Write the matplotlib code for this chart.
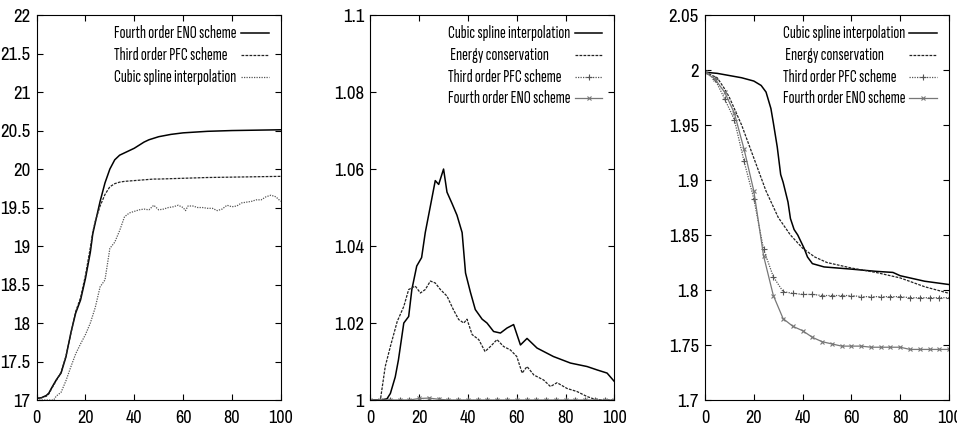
import matplotlib
matplotlib.use("Agg")
import matplotlib.pyplot as plt
from matplotlib import font_manager
from matplotlib.patheffects import AbstractPathEffect
from matplotlib.transforms import Affine2D
from matplotlib.ticker import FormatStrFormatter, MultipleLocator

plt.rcParams["font.family"] = ["Liberation Sans", "DejaVu Sans"]

# ---- left panel: 17 .. 22 ----
x1 = [0, 2, 4, 5, 6, 8, 10, 12, 14, 16, 18, 20, 22, 23, 24, 26, 28, 30, 32, 34,
      36, 38, 40, 42, 44, 46, 48, 50, 55, 60, 65, 70, 80, 90, 100]
eno4_1 = [17.02, 17.03, 17.06, 17.09, 17.15, 17.26, 17.35, 17.56, 17.87, 18.13,
          18.3, 18.58, 18.92, 19.16, 19.3, 19.58, 19.82, 20.0, 20.12, 20.18,
          20.21, 20.24, 20.27, 20.31, 20.35, 20.38, 20.4, 20.42, 20.45, 20.47,
          20.48, 20.49, 20.5, 20.505, 20.51]
pfc3_1 = [17.02, 17.03, 17.05, 17.08, 17.14, 17.25, 17.36, 17.57, 17.86, 18.15,
          18.33, 18.62, 18.98, 19.18, 19.32, 19.52, 19.67, 19.77, 19.81, 19.83,
          19.84, 19.845, 19.85, 19.855, 19.86, 19.865, 19.87, 19.87, 19.875, 19.88,
          19.885, 19.89, 19.895, 19.9, 19.905]
x1c = [0, 2, 4, 6, 7, 8, 10, 12, 14, 16, 18, 20, 22, 24, 26, 28, 30, 32, 34, 36,
       38, 40, 42, 44, 46, 48, 50, 52, 54, 56, 58, 60, 61, 62, 64, 66, 68, 70, 72,
       74, 76, 78, 80, 82, 84, 86, 88, 90, 92, 94, 96, 98, 100]
spline_1 = [17.0, 17.0, 17.0, 17.0, 17.0, 17.05, 17.1, 17.25, 17.43, 17.6, 17.73,
            17.85, 18.0, 18.2, 18.47, 18.56, 18.97, 19.05, 19.2, 19.38, 19.43,
            19.45, 19.47, 19.48, 19.47, 19.53, 19.47, 19.48, 19.5, 19.51, 19.53,
            19.5, 19.46, 19.52, 19.52, 19.5, 19.5, 19.49, 19.49, 19.46, 19.48,
            19.53, 19.51, 19.52, 19.56, 19.57, 19.58, 19.6, 19.6, 19.64, 19.66,
            19.64, 19.58]

# ---- middle panel: 1 .. 1.1 ----
x2s = [0, 4, 6.8, 8.2, 10.2, 11.5, 13.7, 15.7, 17, 19, 21, 22.5, 24.6, 26.6, 28,
       30, 31.4, 33.5, 35.5, 37.6, 39, 41, 43, 45.8, 47.8, 50.5, 53.3, 56, 58.7,
       61.5, 64.2, 68.3, 75, 82, 88.8, 93, 97, 100]
spline_2 = [1.0, 1.0, 1.0003, 1.0017, 1.006, 1.0104, 1.02, 1.0217, 1.0287, 1.0348,
            1.037, 1.0435, 1.0504, 1.057, 1.056, 1.06, 1.054, 1.051, 1.048,
            1.0435, 1.033, 1.028, 1.0235, 1.021, 1.02, 1.0178, 1.0174, 1.0187,
            1.0196, 1.0143, 1.016, 1.0135, 1.0113, 1.0096, 1.0087, 1.0078, 1.007,
            1.0048]
x2e = [0, 4.1, 6.1, 8.2, 11, 13.7, 15.7, 18.4, 20.5, 22.5, 24.6, 26.6, 28.7, 31.4,
       34, 36.2, 38.3, 39.6, 41.7, 44.4, 47, 49.2, 51.9, 54.6, 57.4, 60, 62.2,
       64.2, 67, 71, 73.8, 76.5, 80.6, 84.7, 88.8, 91.5, 95, 100]
energy_2 = [1.0, 1.0, 1.0087, 1.0139, 1.0204, 1.0243, 1.0287, 1.0296, 1.0278,
            1.0287, 1.0309, 1.0304, 1.0287, 1.027, 1.0235, 1.0209, 1.02, 1.021,
            1.017, 1.0157, 1.0126, 1.0139, 1.0157, 1.0139, 1.013, 1.0113, 1.007,
            1.0087, 1.0065, 1.0052, 1.0035, 1.0045, 1.003, 1.0022, 1.0009, 1.0003,
            1.0, 1.0]
x_pts = list(range(0, 101, 4))
pfc3_2 = [1.0] * len(x_pts)
eno4_2 = [1.0, 1.0, 1.0, 1.0, 1.0, 1.0004, 1.0005, 1.0002] + [1.0] * (len(x_pts) - 8)

# ---- right panel: 1.7 .. 2.05 ----
x3s = [0, 5, 10, 15, 20, 23, 25, 27, 28, 29.6, 31, 32, 34, 35, 36.5, 38, 40.6, 42,
       44, 48.8, 60, 70, 77, 80, 90, 100]
spline_3 = [1.998, 1.997, 1.995, 1.993, 1.99, 1.986, 1.98, 1.965, 1.952, 1.93,
            1.905, 1.898, 1.88, 1.865, 1.855, 1.85, 1.838, 1.83, 1.824, 1.821,
            1.819, 1.817, 1.816, 1.813, 1.808, 1.805]
x3e = [0, 5, 8, 10, 15, 20, 25, 30, 35, 40, 45, 50, 60, 70, 80, 90, 100]
energy_3 = [1.998, 1.993, 1.983, 1.975, 1.95, 1.92, 1.89, 1.866, 1.85, 1.838,
            1.83, 1.825, 1.82, 1.816, 1.811, 1.803, 1.797]
pfc3_3 = [1.998, 1.992, 1.974, 1.955, 1.917, 1.883, 1.837, 1.812, 1.7985, 1.797,
          1.796, 1.796, 1.795, 1.795, 1.795, 1.795, 1.794, 1.794, 1.794, 1.794,
          1.794, 1.793, 1.793, 1.793, 1.793, 1.793]
eno4_3 = [1.998, 1.992, 1.98, 1.961, 1.928, 1.89, 1.831, 1.795, 1.774, 1.767,
          1.763, 1.757, 1.753, 1.751, 1.749, 1.749, 1.749, 1.748, 1.748, 1.748,
          1.748, 1.746, 1.746, 1.746, 1.746, 1.746]


class Squeeze(AbstractPathEffect):
    """Narrow the glyphs horizontally, for when no condensed face is around."""

    def __init__(self, sx, anchor="left"):
        super().__init__()
        self.sx = sx
        self.anchor = anchor

    def draw_path(self, renderer, gc, tpath, affine, rgbFace=None):
        ext = tpath.get_extents()
        x0 = {"left": 0.0, "center": 0.5 * (ext.x0 + ext.x1), "right": ext.x1}[self.anchor]
        t = Affine2D().translate(-x0, 0).scale(self.sx, 1.0).translate(x0, 0) + affine
        renderer.draw_path(gc, tpath, t, rgbFace)


installed = {f.name for f in font_manager.fontManager.ttflist}


def narrow_font(family, size, fallback_sx, anchor):
    """Font kwargs + path effects: a condensed family if present, else squeezed Liberation Sans."""
    if family in installed:
        return dict(family=family, fontsize=size), []
    return dict(family="Liberation Sans", fontsize=size), [Squeeze(fallback_sx, anchor)]


key_font, key_fx = narrow_font("Sofia Sans Extra Condensed", 12.7, 0.58, "left")
xt_font, xt_fx = narrow_font("Archivo Narrow", 13, 0.76, "center")
yt_font, yt_fx = narrow_font("Archivo Narrow", 13.5, 0.76, "right")

solid = dict(color="black", lw=1.1, ls="-")
dashed = dict(color="#222222", lw=0.9, ls=(0, (2.2, 1.0)))
dotted = dict(color="#555555", lw=0.9, ls=(0, (1.0, 1.0)))
plus = dict(dotted, marker="+", ms=5, mew=0.8)
cross = dict(color="#777777", lw=0.9, ls="-", marker="x", ms=3.5, mew=0.8)

panels = [
    ((17, 22, 0.5), [
        (x1, eno4_1, "Fourth order ENO scheme", solid),
        (x1, pfc3_1, "Third order PFC scheme", dashed),
        (x1c, spline_1, "Cubic spline interpolation", dotted),
    ]),
    ((1.0, 1.1, 0.02), [
        (x2s, spline_2, "Cubic spline interpolation", solid),
        (x2e, energy_2, " Energy conservation", dashed),
        (x_pts, pfc3_2, "Third order PFC scheme", plus),
        (x_pts, eno4_2, "Fourth order ENO scheme", cross),
    ]),
    ((1.7, 2.05, 0.05), [
        (x3s, spline_3, "Cubic spline interpolation", solid),
        (x3e, energy_3, " Energy conservation", dashed),
        (x_pts, pfc3_3, "Third order PFC scheme", plus),
        (x_pts, eno4_3, "Fourth order ENO scheme", cross),
    ]),
]
lefts = [0.0383, 0.3870, 0.7367]

fig = plt.figure(figsize=(9.57, 4.34), dpi=100)

for left, ((lo, hi, step), series) in zip(lefts, panels):
    ax = fig.add_axes([left, 0.0783, 0.2550, 0.887])
    for i, (xs, ys, label, style) in enumerate(series):
        ax.plot(xs, ys, **style)
        # key entry: label on the left, line sample on the right
        yk = 0.953 - 0.0565 * i
        ax.text(0.318, yk, label, transform=ax.transAxes, ha="left", va="center",
                path_effects=key_fx, **key_font)
        ax.plot([0.837, 0.894, 0.951], [yk, yk, yk], transform=ax.transAxes,
                markevery=[1], **style)

    ax.set_xlim(0, 100)
    ax.set_ylim(lo, hi)
    ax.xaxis.set_major_locator(MultipleLocator(20))
    ax.yaxis.set_major_locator(MultipleLocator(step))
    ax.yaxis.set_major_formatter(FormatStrFormatter("%g"))
    ax.tick_params(direction="in", top=True, right=True, length=4, width=0.8)
    ax.tick_params(axis="x", pad=7.5)
    ax.tick_params(axis="y", pad=4.5)
    for s in ax.spines.values():
        s.set_linewidth(0.8)
    for lab in ax.get_xticklabels():
        lab.set_fontfamily(xt_font["family"])
        lab.set_fontsize(xt_font["fontsize"])
        lab.set_path_effects(xt_fx)
    for lab in ax.get_yticklabels():
        lab.set_fontfamily(yt_font["family"])
        lab.set_fontsize(yt_font["fontsize"])
        lab.set_path_effects(yt_fx)

fig.savefig("out.png", dpi=100)
